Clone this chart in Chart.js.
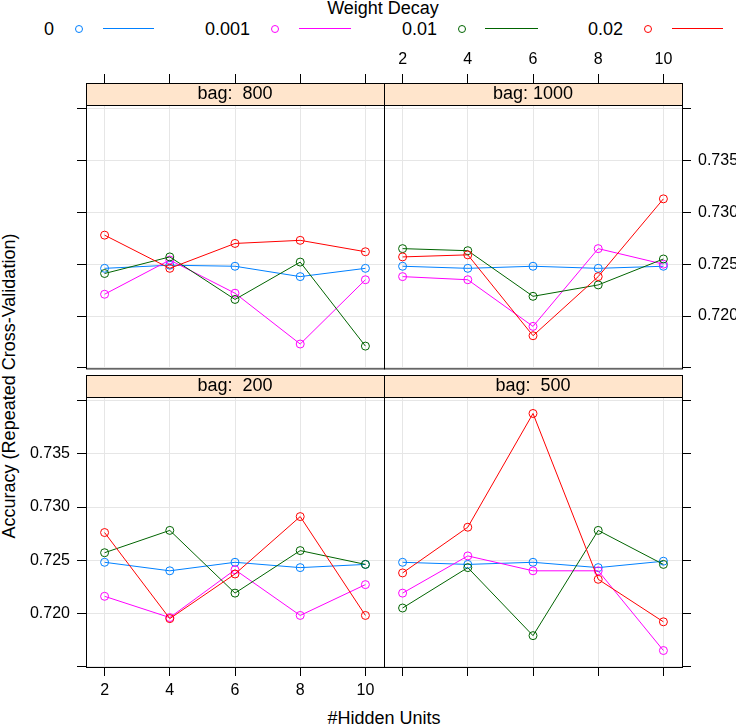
<!DOCTYPE html>
<html>
<head>
<meta charset="utf-8">
<script src="https://cdn.jsdelivr.net/npm/chart.js@4.4.0/dist/chart.umd.min.js"></script>
<style>
  body { margin: 0; background: #fff; width: 736px; height: 727px; position: relative; overflow: hidden;
         font-family: "Liberation Sans", Arial, Helvetica, sans-serif; }
  canvas { position: absolute; }
  .t { position: absolute; white-space: nowrap; color: #000; line-height: 1; }
</style>
</head>
<body>
<div id="legend"></div>
<div class="t" style="left:9px;top:386px;font-size:18px;transform:translate(-50%,-50%) rotate(-90deg);">Accuracy (Repeated Cross-Validation)</div>
<div class="t" style="left:384px;top:718px;font-size:18px;transform:translate(-50%,-50%);">#Hidden Units</div>
<canvas id="tl" width="350" height="345" style="left:40px;top:40px"></canvas>
<canvas id="tr" width="358" height="345" style="left:378px;top:40px"></canvas>
<canvas id="bl" width="390" height="357" style="left:0px;top:370px"></canvas>
<canvas id="br" width="358" height="357" style="left:378px;top:370px"></canvas>
<script>
// x values and tick marks
const hiddenUnits = [2, 4, 6, 8, 10];
const yTicks = [0.715, 0.72, 0.725, 0.73, 0.735, 0.74];
const yLabeled = [0.72, 0.725, 0.73, 0.735];

// weight decay groups
const decayLabels = ["0", "0.001", "0.01", "0.02"];
const decayColors = ["#0080ff", "#ff00ff", "#006400", "#ff0000"];

// accuracy per panel, one row per weight decay (0, 0.001, 0.01, 0.02)
const bag800 = [
  [0.7246, 0.7249, 0.7248, 0.7238, 0.7246],
  [0.7221, 0.7254, 0.7222, 0.7173, 0.7235],
  [0.7241, 0.7257, 0.7216, 0.7252, 0.7171],
  [0.7278, 0.7246, 0.7270, 0.7273, 0.7262],
];
const bag1000 = [
  [0.7248, 0.7246, 0.7248, 0.7246, 0.7248],
  [0.7238, 0.7235, 0.7190, 0.7265, 0.7250],
  [0.7265, 0.7263, 0.7219, 0.7230, 0.7255],
  [0.7257, 0.7259, 0.7181, 0.7238, 0.7313],
];
const bag200 = [
  [0.7248, 0.7240, 0.7248, 0.7243, 0.7246],
  [0.7216, 0.7196, 0.7241, 0.7198, 0.7227],
  [0.7257, 0.7278, 0.7219, 0.7259, 0.7246],
  [0.7276, 0.7195, 0.7237, 0.7291, 0.7198],
];
const bag500 = [
  [0.7248, 0.7246, 0.7248, 0.7243, 0.7249],
  [0.7219, 0.7254, 0.7240, 0.7240, 0.7165],
  [0.7205, 0.7243, 0.7179, 0.7278, 0.7246],
  [0.7238, 0.7281, 0.7388, 0.7232, 0.7192],
];

const FONT = '"Liberation Sans", Arial, Helvetica, sans-serif';

// ---- legend (html) ----
const legendLayout = [
  { text: 44, dot: 79, line: [103, 154] },
  { text: 205, dot: 275, line: [299, 351] },
  { text: 402, dot: 462, line: [485, 538] },
  { text: 588, dot: 648, line: [672, 723] },
];
(function buildLegend() {
  const el = document.getElementById("legend");
  let html = '<div class="t" style="left:383px;top:-1px;font-size:18px;transform:translateX(-50%)">Weight Decay</div>';
  decayLabels.forEach((lab, k) => {
    const L = legendLayout[k];
    html += `<div class="t" style="left:${L.text}px;top:20px;font-size:18px">${lab}</div>`;
    html += `<div style="position:absolute;left:${L.dot - 4}px;top:25px;width:6px;height:6px;border:1px solid ${decayColors[k]};border-radius:50%"></div>`;
    html += `<div style="position:absolute;left:${L.line[0]}px;top:28px;width:${L.line[1] - L.line[0]}px;height:1px;background:${decayColors[k]}"></div>`;
  });
  el.innerHTML = html;
})();

// ---- panel frame + strip ----
const panelFrame = {
  id: "panelFrame",
  afterDraw(chart, args, opts) {
    const { ctx, chartArea: a } = chart;
    const w = a.right - a.left;
    ctx.save();
    ctx.strokeStyle = "#000";
    ctx.lineWidth = 1;
    // strip
    ctx.fillStyle = "#ffe5cc";
    ctx.fillRect(a.left, a.top - 22, w, 22);
    ctx.strokeRect(a.left + 0.5, a.top - 22 + 0.5, w, 22);
    ctx.fillStyle = "#000";
    ctx.font = "18px " + FONT;
    ctx.textAlign = "center";
    ctx.textBaseline = "middle";
    ctx.fillText(opts.label, a.left + w / 2, a.top - 11);
    // panel box
    ctx.strokeRect(a.left + 0.5, a.top + 0.5, w, a.bottom - a.top);
    ctx.restore();
  },
};

function makePanel(id, cfg) {
  const datasets = cfg.rows.map((row, k) => ({
    label: decayLabels[k],
    data: hiddenUnits.map((x, i) => ({ x: x, y: row[i] })),
    borderColor: decayColors[k],
    borderWidth: 1,
    pointRadius: 4,
    pointBorderWidth: 1,
    pointBackgroundColor: "rgba(0,0,0,0)",
    pointBorderColor: decayColors[k],
    order: 3 - k,
    tension: 0,
  }));

  return new Chart(document.getElementById(id), {
    type: "line",
    data: { datasets },
    plugins: [panelFrame],
    options: {
      animation: false,
      responsive: false,
      events: [],
      layout: { padding: cfg.pad },
      plugins: {
        legend: { display: false },
        tooltip: { enabled: false },
        panelFrame: { label: cfg.strip },
      },
      scales: {
        x: {
          type: "linear",
          position: cfg.xPos,
          min: 1.43,
          max: 10.57,
          afterBuildTicks: (s) => { s.ticks = hiddenUnits.map((v) => ({ value: v })); },
          afterFit: (s) => { s.height = cfg.xSize; },
          border: { display: false },
          grid: { color: "#e6e6e6", tickColor: "#000", lineWidth: 1, tickLength: cfg.xPos === "top" ? 31 : 9 },
          ticks: {
            autoSkip: false, maxRotation: 0, padding: 5, color: "#000",
            font: { size: 16, family: FONT },
            callback: (v) => (cfg.xLabels ? String(v) : ""),
          },
        },
        y: {
          type: "linear",
          position: cfg.yPos,
          min: 0.71495,
          max: 0.74035,
          afterBuildTicks: (s) => { s.ticks = yTicks.map((v) => ({ value: v })); },
          afterFit: (s) => { s.width = cfg.ySize; },
          border: { display: false },
          grid: { color: "#e6e6e6", tickColor: "#000", lineWidth: 1, tickLength: 9 },
          ticks: {
            autoSkip: false, padding: 7, color: "#000",
            font: { size: 16, family: FONT },
            callback: (v) => (cfg.yLabels && yLabeled.includes(v) ? v.toFixed(3) : ""),
          },
        },
      },
    },
  });
}

makePanel("tl", { rows: bag800, strip: "bag:  800", xPos: "top", yPos: "left", xLabels: false, yLabels: false,
  xSize: 65, ySize: 46, pad: { left: 0, top: 0, right: 6, bottom: 10 } });
makePanel("tr", { rows: bag1000, strip: "bag: 1000", xPos: "top", yPos: "right", xLabels: true, yLabels: true,
  xSize: 65, ySize: 54, pad: { left: 6, top: 0, right: 0, bottom: 10 } });
makePanel("bl", { rows: bag200, strip: "bag:  200", xPos: "bottom", yPos: "left", xLabels: true, yLabels: true,
  xSize: 60, ySize: 86, pad: { left: 0, top: 27, right: 6, bottom: 0 } });
makePanel("br", { rows: bag500, strip: "bag:  500", xPos: "bottom", yPos: "right", xLabels: false, yLabels: false,
  xSize: 60, ySize: 54, pad: { left: 6, top: 27, right: 0, bottom: 0 } });
</script>
</body>
</html>
